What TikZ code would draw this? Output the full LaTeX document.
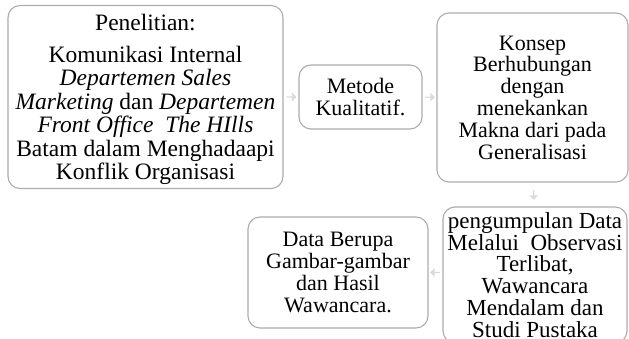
\documentclass[tikz,border=0pt]{standalone}
\usepackage{fontspec}
\setmainfont{Liberation Serif}
\usetikzlibrary{shapes.arrows,calc}

\begin{document}
\begin{tikzpicture}[x=1pt, y=-1pt,
  box/.style={draw=gray!65, line width=1.1pt, rounded corners=12pt, align=center,
    inner sep=2pt, font=\fontsize{22}{21.8}\selectfont},
  blkarrow/.style={single arrow, fill=gray!28, draw=none, inner sep=0pt,
    minimum width=9pt, minimum height=10pt, single arrow head extend=1.5pt}]
\useasboundingbox (0,0) rectangle (629,339);
\clip (0,0) rectangle (629,339);
  % Top row
  \node[box, minimum width=275pt, minimum height=183pt,
    font=\fontsize{23.5}{23.5}\selectfont] (pen) at (145.5,97)
    {\rule{0pt}{22pt}Penelitian:\\[8pt]
     Komunikasi Internal\\
     \textit{Departemen Sales}\\
     \textit{Marketing} dan \textit{Departemen}\\
     \textit{Front Office\ \ The HIlls}\\
     Batam dalam Menghadaapi\\
     Konflik Organisasi};
  \node[box, minimum width=123pt, minimum height=64pt] (met) at (360.5,97)
    {Metode\\Kualitatif.};
  \node[box, minimum width=191pt, minimum height=169pt] (kon) at (532.5,97.5)
    {Konsep\\Berhubungan\\dengan\\menekankan\\Makna dari pada\\Generalisasi};
  % Bottom row (runs past the lower edge)
  \node[box, minimum width=184pt, minimum height=136pt,
    font=\fontsize{23}{21.9}\selectfont] (kum) at (535,275)
    {pengumpulan Data\\Melalui\ \ Observasi\\Terlibat,\\Wawancara\\Mendalam dan\\Studi Pustaka};
  \node[box, minimum width=180pt, minimum height=111pt] (dat) at (338,272.5)
    {Data Berupa\\Gambar-gambar\\dan Hasil\\Wawancara.};
  % Arrows
  \node[blkarrow] (a1) at ($(pen.east)!0.5!(met.west)$) {};
  \node[blkarrow] (a2) at ($(met.east)!0.5!(kon.west)$) {};
  \node[blkarrow, shape border rotate=270] (a3) at ($(kon.south)!0.5!(kum.north)$) {};
  \node[blkarrow, shape border rotate=180] (a4) at ($(dat.east)!0.5!(kum.west |- dat.east)$) {};
\end{tikzpicture}
\end{document}
